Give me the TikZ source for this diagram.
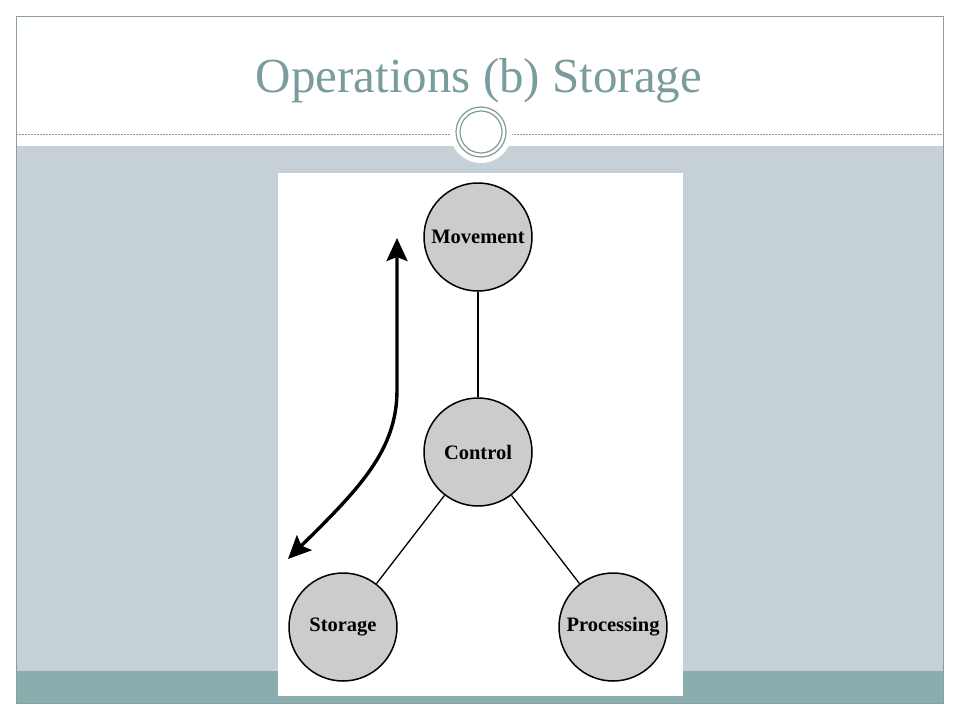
\documentclass[tikz,border=0pt]{standalone}
\usepackage{fontspec}
\setmainfont{Liberation Serif}
\usetikzlibrary{arrows.meta}
\begin{document}
\begin{tikzpicture}[x=1pt,y=-1pt,
  opnode/.style={circle,draw=black,line width=1.5pt,fill=nodegray,minimum size=108pt,inner sep=0pt,font=\fontsize{20.5}{22}\selectfont\bfseries},
  link/.style={draw=black,line width=1.3pt},
  flow/.style={draw=black,line width=3.4pt,{Stealth[length=23pt,width=21pt,inset=4pt]}-{Stealth[length=23pt,width=21pt,inset=4pt]}}]
\definecolor{nodegray}{HTML}{CCCCCC}
\definecolor{bodyband}{HTML}{C6D1D7}
\definecolor{footband}{HTML}{8AADAD}
\definecolor{framecol}{HTML}{8C9E9E}
\definecolor{titlecol}{HTML}{7A9C9C}
\definecolor{ringcol}{HTML}{7F9A9A}
\useasboundingbox (0,0) rectangle (960,720);
\fill[white] (0,0) rectangle (960,720);
% bands
\fill[bodyband] (16,146) rectangle (943,671);
\fill[footband] (16,671) rectangle (943,703);
\draw[framecol,line width=1pt] (16,16) rectangle (943,703);
% dashed separator
\draw[framecol,line width=0.6pt,dash pattern=on 2pt off 1pt] (16,134) -- (943,134);
% title
\node[font=\fontsize{49}{52}\selectfont,text=titlecol,anchor=base] (title) at (479,92) {Operations (b) Storage};
% ring ornament
\fill[white] (481,132) circle[radius=31];
\draw[ringcol,line width=1.2pt] (481,132) circle[radius=25];
\draw[ringcol,line width=1.2pt] (481,132) circle[radius=21];
% image panel
\fill[white] (278,173) rectangle (683,696);
% nodes
\node[opnode] (mov) at (478,237) {Movement};
\node[opnode] (ctl) at (478,452) {Control};
\node[opnode] (sto) at (343,627) {Storage};
\node[opnode] (pro) at (613,627) {Processing};
\draw[link] (mov) -- (ctl);
\draw[link] (ctl) -- (sto);
\draw[link] (ctl) -- (pro);
% storage flow arrow
\coordinate (atop) at (397,238);
\coordinate (abot) at (288,559);
\coordinate (abend) at (397,390);
\draw[flow] (abot) -- (300,547) .. controls (360,488) and (397,450) .. (abend) -- (atop);
\end{tikzpicture}
\end{document}
